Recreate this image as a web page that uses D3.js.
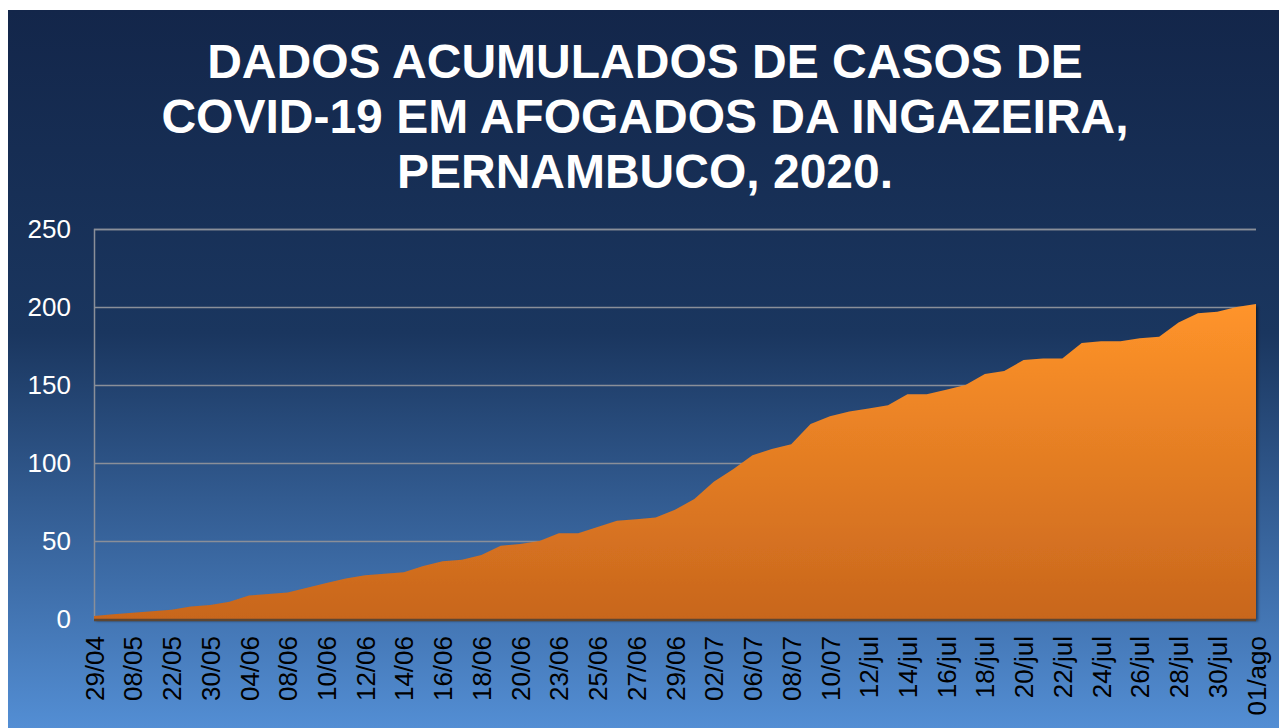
<!DOCTYPE html>
<html>
<head>
<meta charset="utf-8">
<script src="https://cdn.jsdelivr.net/npm/d3@7"></script>
<style>
  body { margin: 0; background: #ffffff; }
  text { font-family: "Liberation Sans", Arial, sans-serif; }
</style>
</head>
<body>
<div id="chart"></div>
<script>

// ---------------------------------------------
// ---------          Data           -----------
// ---------------------------------------------

const titleLines = [
  "DADOS ACUMULADOS DE CASOS DE",
  "COVID-19 EM AFOGADOS DA INGAZEIRA,",
  "PERNAMBUCO, 2020."
];

// one entry per report, only every second one is printed on the axis
const dates = [
  "29/04", "04/05", "08/05", "15/05", "22/05", "26/05", "30/05", "02/06",
  "04/06", "06/06", "08/06", "09/06", "10/06", "11/06", "12/06", "13/06",
  "14/06", "15/06", "16/06", "17/06", "18/06", "19/06", "20/06", "22/06",
  "23/06", "24/06", "25/06", "26/06", "27/06", "28/06", "29/06", "30/06",
  "02/07", "04/07", "06/07", "07/07", "08/07", "09/07", "10/07", "11/07",
  "12/jul", "13/jul", "14/jul", "15/jul", "16/jul", "17/jul", "18/jul", "19/jul",
  "20/jul", "21/jul", "22/jul", "23/jul", "24/jul", "25/jul", "26/jul", "27/jul",
  "28/jul", "29/jul", "30/jul", "31/jul", "01/ago"
];

const cases = [
  2, 3, 4, 5, 6, 8, 9, 11,
  15, 16, 17, 20, 23, 26, 28, 29,
  30, 34, 37, 38, 41, 47, 48, 50,
  55, 55, 59, 63, 64, 65, 70, 77,
  88, 96, 105, 109, 112, 125, 130, 133,
  135, 137, 144, 144, 147, 150, 157, 159,
  166, 167, 167, 177, 178, 178, 180, 181,
  190, 196, 197, 200, 202
];

const yTicks = [0, 50, 100, 150, 200, 250];

// ---------------------------------------------
// ---------          Config         -----------
// ---------------------------------------------

const W = 1279;
const H = 728;
const plot = {left: 94, right: 1256, top: 229, bottom: 619};

const svg = d3.select("#chart")
  .append("svg")
    .attr("width", W)
    .attr("height", H);

const defs = svg.append("defs");

// page background, dark navy fading to light blue
const bg = defs.append("linearGradient")
  .attr("id", "bgGrad")
  .attr("x1", 0).attr("y1", 0).attr("x2", 0).attr("y2", 1);
bg.append("stop").attr("offset", "0%").attr("stop-color", "#13264a");
bg.append("stop").attr("offset", "45%").attr("stop-color", "#1a365f");
bg.append("stop").attr("offset", "100%").attr("stop-color", "#538ed4");

// orange fill of the area
const og = defs.append("linearGradient")
  .attr("id", "areaGrad")
  .attr("x1", 0).attr("y1", 0).attr("x2", 0).attr("y2", 1);
og.append("stop").attr("offset", "0%").attr("stop-color", "#ff942a");
og.append("stop").attr("offset", "100%").attr("stop-color", "#c8661d");

const shadow = defs.append("filter")
  .attr("id", "shadow")
  .attr("x", "-5%").attr("y", "-5%").attr("width", "110%").attr("height", "115%");
shadow.append("feDropShadow")
  .attr("dx", 2).attr("dy", 2)
  .attr("stdDeviation", 1.5)
  .attr("flood-color", "#000")
  .attr("flood-opacity", 0.45);

svg.append("rect")
  .attr("x", 8).attr("y", 10)
  .attr("width", W - 8).attr("height", H - 10)
  .attr("fill", "url(#bgGrad)");

// ---------------------------------------------
// ---------          Title          -----------
// ---------------------------------------------

svg.append("g")
  .selectAll("text")
  .data(titleLines)
  .join("text")
    .attr("x", 645)
    .attr("y", (d, i) => 78 + i * 55)
    .attr("text-anchor", "middle")
    .attr("fill", "#ffffff")
    .attr("font-weight", "bold")
    .attr("font-size", 48)
    .text(d => d);

// ---------------------------------------------
// ---------          Scales         -----------
// ---------------------------------------------

const x = d3.scalePoint()
  .domain(dates)
  .range([plot.left, plot.right]);

const y = d3.scaleLinear()
  .domain([0, 250])
  .range([plot.bottom, plot.top]);

// Y axis with gridlines
const yAxis = svg.append("g")
  .attr("class", "y-axis")
  .attr("transform", "translate(" + plot.left + ",0)")
  .call(d3.axisLeft(y)
    .tickValues(yTicks)
    .tickSize(-(plot.right - plot.left))
    .tickPadding(23));

yAxis.select(".domain")
  .attr("stroke", "#8a8f99")
  .attr("stroke-width", 1.5);
yAxis.selectAll(".tick line")
  .attr("stroke", "#8a8f99")
  .attr("stroke-width", 1.5);
yAxis.selectAll(".tick text")
  .attr("fill", "#ffffff")
  .attr("font-size", 26);

// ---------------------------------------------
// ---------          Area           -----------
// ---------------------------------------------

const series = dates.map((d, i) => ({date: d, value: cases[i]}));

const area = d3.area()
  .x(d => x(d.date))
  .y0(y(0))
  .y1(d => y(d.value));

svg.append("path")
  .datum(series)
  .attr("d", area)
  .attr("fill", "url(#areaGrad)")
  .attr("filter", "url(#shadow)");

// floor line below the area
svg.append("line")
  .attr("x1", plot.left).attr("x2", plot.right)
  .attr("y1", y(0) + 1).attr("y2", y(0) + 1)
  .attr("stroke", "#5d4632")
  .attr("stroke-width", 2.5);

// ---------------------------------------------
// ---------          X axis         -----------
// ---------------------------------------------

const xAxis = svg.append("g")
  .attr("class", "x-axis")
  .attr("transform", "translate(0," + plot.bottom + ")")
  .call(d3.axisBottom(x)
    .tickValues(dates.filter((d, i) => i % 2 === 0))
    .tickSize(0));

xAxis.select(".domain").remove();
xAxis.selectAll(".tick text")
  .attr("transform", "rotate(-90)")
  .attr("x", -17)
  .attr("y", 0)
  .attr("dy", "0.35em")
  .style("text-anchor", "end")
  .attr("fill", "#000000")
  .attr("font-size", 26);

</script>
</body>
</html>
